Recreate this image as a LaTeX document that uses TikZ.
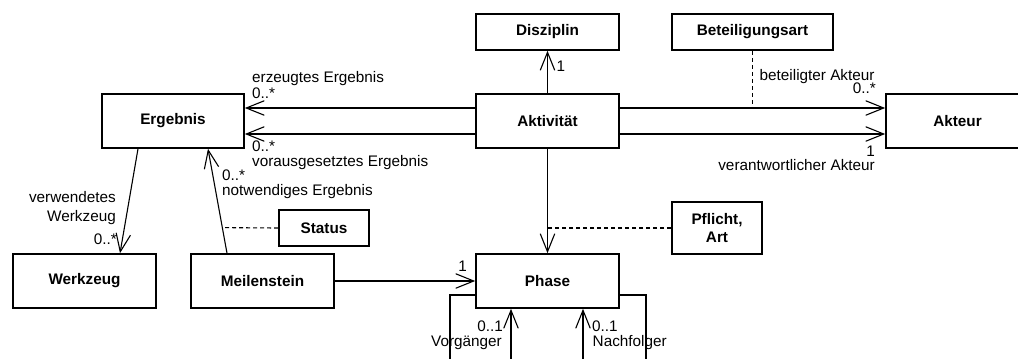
\documentclass[tikz,border=0pt]{standalone}
\usepackage{fontspec}
\setmainfont{Liberation Sans}
\usetikzlibrary{arrows.meta,calc}
\begin{document}
\begin{tikzpicture}[x=1bp,y=-1bp,
  every node/.style={font=\fontsize{15.3bp}{18.3bp}\selectfont, inner sep=0pt},
  cls/.style={draw, line width=1.6bp, font=\fontsize{15.3bp}{18.3bp}\selectfont\bfseries, align=center, minimum width=143bp, minimum height=54bp},
  assoc/.style={line width=1.1bp, -{Straight Barb[length=18bp,width=14.5bp]}},
  plain/.style={line width=1.1bp},
  dep/.style={line width=1.1bp, dash pattern=on 4bp off 3bp},
  lbl/.style={anchor=base west},
  lblr/.style={anchor=base east}]
\useasboundingbox (0,0) rectangle (1018,358);
% classes
\node[cls, minimum height=36bp] (disz) at (547.5,32) {Disziplin};
\node[cls, minimum width=161bp, minimum height=36bp] (bet) at (752.5,32) {Beteiligungsart};
\node[cls] (akt) at (547.5,121) {Aktivität};
\node[cls, minimum width=142bp] (erg) at (173,121) {Ergebnis};
\node[cls] (akteur) at (957.5,121) {Akteur};
\node[cls] (wz) at (84.5,281) {Werkzeug};
\node[cls] (ms) at (262.5,281) {Meilenstein};
\node[cls, minimum width=90bp, minimum height=36bp] (st) at (324,228) {Status};
\node[cls] (ph) at (547.5,281) {Phase};
\node[cls, minimum width=90bp, minimum height=52bp] (pf) at (717,228) {Pflicht,\\Art};
% connectors
\draw[assoc] ([yshift=13bp]akt.west) -- ([yshift=13bp]erg.east);
\draw[assoc] ([yshift=-13bp]akt.west) -- ([yshift=-13bp]erg.east);
\draw[assoc] ([yshift=13bp]akt.east) -- ([yshift=13bp]akteur.west);
\draw[assoc] ([yshift=-13bp]akt.east) -- ([yshift=-13bp]akteur.west);
\draw[assoc] (akt.north) -- (akt.north |- disz.south);
\coordinate (bj) at ([yshift=13bp]akteur.west);
\draw[dep] (bet.south) -- (bet.south |- bj);
\draw[assoc] (akt.south) -- (akt.south |- ph.north);
\draw[dep] (pf.west) -- (pf.west -| akt.south);
\draw[assoc] ([xshift=-35bp]erg.south) -- ([xshift=35.5bp]wz.north);
\coordinate (m1) at ([xshift=-35.5bp]ms.north);
\coordinate (e1) at ([xshift=35bp]erg.south);
\draw[assoc] (m1) -- (e1);
\coordinate (sj) at ($(m1)!0.245!(e1)$);
\draw[dep] (st.west) -- (sj);
\draw[assoc] (ms.east) -- (ph.west);
% self association of Phase
\coordinate (lb) at (450,372);
\coordinate (rb) at (646,372);
\draw[plain] ([yshift=-14bp]ph.west) -| (lb);
\coordinate (pl) at ([xshift=-36.5bp]ph.south);
\draw[assoc] (pl |- lb) -- (pl);
\draw[plain] ([yshift=-14bp]ph.east) -| (rb);
\coordinate (pr) at ([xshift=35.5bp]ph.south);
\draw[assoc] (pr |- rb) -- (pr);
% labels
\node[lbl] (t1) at (252,82) {erzeugtes Ergebnis};
\node[lbl] (t2) at (252,98) {0..*};
\node[lbl] (t3) at (252,151.5) {0..*};
\node[lbl] (t4) at (252,166.5) {vorausgesetztes Ergebnis};
\node[lbl] (t5) at (222,180) {0..*};
\node[lbl] (t6) at (222,195) {notwendiges Ergebnis};
\node[lblr] (t7) at (116,202.5) {verwendetes};
\node[lblr] (t8) at (116,221.5) {Werkzeug};
\node[lblr] (t9) at (117,244) {0..*};
\node[lbl] (t10) at (556.5,71.5) {1};
\node[lbl] (t11) at (759.5,80) {beteiligter Akteur};
\node[lblr] (t12) at (876,93.5) {0..*};
\node[lblr] (t13) at (875,156.5) {1};
\node[lblr] (t14) at (875,170.5) {verantwortlicher Akteur};
\node[lblr] (t15) at (467,271.5) {1};
\node[lblr] (t16) at (503,331) {0..1};
\node[lblr] (t17) at (502,346) {Vorgänger};
\node[lbl] (t18) at (592,331) {0..1};
\node[lbl] (t19) at (592.5,346) {Nachfolger};
\end{tikzpicture}
\end{document}
